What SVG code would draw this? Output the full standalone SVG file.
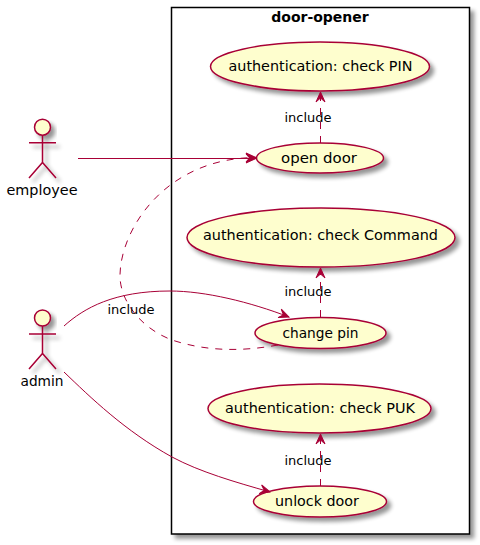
<svg xmlns="http://www.w3.org/2000/svg" width="480" height="545" viewBox="0 0 480 545">
<defs>
<filter id="shadow" x="-30%" y="-20%" width="170%" height="170%"><feGaussianBlur in="SourceAlpha" stdDeviation="2" result="b"/><feOffset in="b" dx="4" dy="4" result="o"/><feComponentTransfer in="o" result="c"><feFuncA type="linear" slope="0.42"/></feComponentTransfer><feMerge><feMergeNode in="c"/><feMergeNode in="SourceGraphic"/></feMerge></filter>
<marker id="arr" markerUnits="userSpaceOnUse" markerWidth="14" markerHeight="12" refX="10" refY="5" orient="auto" overflow="visible"><path d="M10,5 L0,0.5 L4,5 L0,9.5 Z" fill="#A80036" stroke="#A80036"/></marker>
</defs>
<style>
.uc{fill:#FEFECE;stroke:#A80036;stroke-width:1.5;filter:url(#shadow)}
.t{font-family:"DejaVu Sans",sans-serif;font-size:14px;fill:#000;text-anchor:middle}
.l{font-family:"DejaVu Sans",sans-serif;font-size:13px;fill:#000;text-anchor:middle}
.c{fill:none;stroke:#A80036;stroke-width:1}
.d{stroke-dasharray:7 7}
.a{fill:none;stroke:#A80036;stroke-width:1.5;filter:url(#shadow)}
.h{fill:#FEFECE;stroke:#A80036;stroke-width:1.5;filter:url(#shadow)}
</style>
<g id="door-opener">
<rect x="171.5" y="7.5" width="298" height="526.5" fill="#fff" stroke="#000" stroke-width="1.5" filter="url(#shadow)"/>
<text x="320" y="22" class="t" font-weight="bold">door-opener</text>
</g>
<g id="uc-pin"><ellipse class="uc" cx="320" cy="66.5" rx="109.5" ry="24.5"/><text x="320.5" y="71" class="t" textLength="184" lengthAdjust="spacingAndGlyphs">authentication: check PIN</text></g>
<g id="uc-open"><ellipse class="uc" cx="320" cy="158" rx="63.5" ry="15"/><text x="319" y="163" class="t" textLength="76" lengthAdjust="spacingAndGlyphs">open door</text></g>
<g id="uc-command"><ellipse class="uc" cx="321" cy="237.5" rx="134" ry="29.5"/><text x="320.5" y="240" class="t" textLength="235" lengthAdjust="spacingAndGlyphs">authentication: check Command</text></g>
<g id="uc-change"><ellipse class="uc" cx="320.5" cy="333" rx="65.5" ry="15.5"/><text x="320.5" y="338" class="t" textLength="76" lengthAdjust="spacingAndGlyphs">change pin</text></g>
<g id="uc-puk"><ellipse class="uc" cx="319.5" cy="408.5" rx="111.5" ry="24.5"/><text x="320" y="413" class="t" textLength="190" lengthAdjust="spacingAndGlyphs">authentication: check PUK</text></g>
<g id="uc-unlock"><ellipse class="uc" cx="320" cy="501.5" rx="66.5" ry="15.5"/><text x="317" y="506" class="t" textLength="84" lengthAdjust="spacingAndGlyphs">unlock door</text></g>
<g id="employee">
<circle class="h" cx="42.5" cy="127.2" r="8"/>
<path class="a" d="M42.5,135.2V162.5M29,142.7H56M29,178L42.5,162.5L56,178"/>
<text x="42" y="195" class="t" textLength="71" lengthAdjust="spacingAndGlyphs">employee</text>
</g>
<g id="admin">
<circle class="h" cx="42.5" cy="318" r="8"/>
<path class="a" d="M42.5,326V353.5M29,334H56M29,369L42.5,353.5L56,369"/>
<text x="42" y="386" class="t" textLength="43" lengthAdjust="spacingAndGlyphs">admin</text>
</g>
<g id="connectors">
<path class="c" d="M78,158.5H256" marker-end="url(#arr)"/>
<path class="c d" d="M278,345 C240,352 205,351 172,340 C140,328 120,300 120,276 C120,230 165,158 256,157.5" marker-end="url(#arr)"/>
<path class="c" d="M64,326 C84,308 114,291 170,291 C205,291 250,302 289,317" marker-end="url(#arr)"/>
<path class="c" d="M64,372 C90,397 125,431 172,457 C200,472 235,482 270,492" marker-end="url(#arr)"/>
<path class="c d" d="M320.5,143V92" marker-end="url(#arr)"/>
<path class="c d" d="M320.5,317V268" marker-end="url(#arr)"/>
<path class="c d" d="M320.5,486V434" marker-end="url(#arr)"/>
<text x="308" y="122" class="l">include</text>
<text x="308" y="296" class="l">include</text>
<text x="308" y="465" class="l">include</text>
<text x="131" y="314" class="l">include</text>
</g>
</svg>
